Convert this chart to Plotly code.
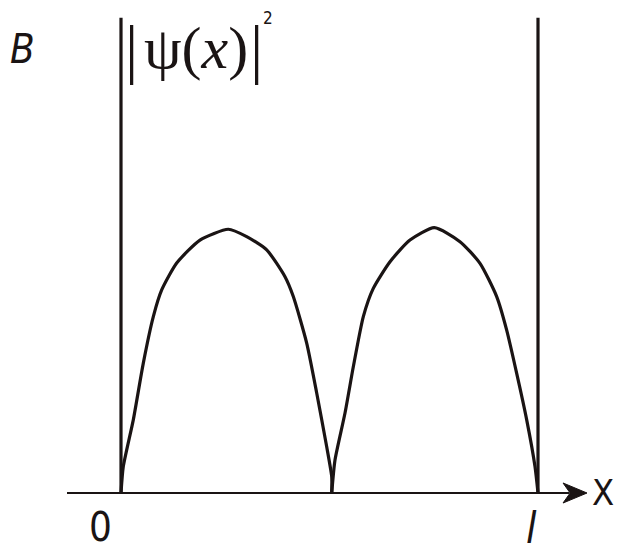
import plotly.graph_objects as go

# |psi(x)|^2 curve, x in units of l, y normalised to the peak height
x_hump1 = [0.0, 0.0055, 0.0295, 0.0535, 0.0775, 0.0976, 0.1336, 0.1894, 0.2573,
           0.3014, 0.3494, 0.3933, 0.4132, 0.4453, 0.4693, 0.4933, 0.5053, 0.5053]
y_hump1 = [0.0, 0.100, 0.277, 0.492, 0.668, 0.769, 0.871, 0.958, 0.999,
           0.971, 0.921, 0.819, 0.744, 0.568, 0.379, 0.175, 0.062, 0.0]
x_hump2 = [0.5053, 0.5132, 0.5372, 0.5571, 0.5811, 0.6050, 0.6451, 0.6930, 0.7513,
           0.8129, 0.8609, 0.9009, 0.9249, 0.9489, 0.9729, 0.9928, 1.0]
y_hump2 = [0.0, 0.125, 0.303, 0.478, 0.668, 0.775, 0.876, 0.958, 1.005,
           0.952, 0.870, 0.744, 0.617, 0.453, 0.277, 0.100, 0.0]

wall_x = [0.0, 1.0]          # infinite walls at x = 0 and x = l
wall_top = 1.80
axis_x = [-0.1295, 1.075]    # x axis line
arrow_x = [1.1175, 1.06, 1.077, 1.06, 1.1175]
arrow_y = [0.0, 0.038, 0.0, -0.038, 0.0]

# page body has an 8px margin; the figure is sized to fill the rest of the window
PAGE = 8
W, H = 628 - PAGE, 555 - PAGE
X0_PX, L_PX = 121, 417     # reference pixel of x=0, pixels per l
Y0_PX, P_PX = 493, 264     # reference pixel of y=0, pixels per unit height

def px2x(px):
    return (px - X0_PX) / L_PX

def py2y(py):
    return (Y0_PX - py) / P_PX

X_RANGE = [px2x(PAGE), px2x(628)]
Y_RANGE = [py2y(555), py2y(PAGE)]

ink = "#1a1414"
fig = go.Figure()
for wx in wall_x:
    fig.add_trace(go.Scatter(x=[wx, wx], y=[0, wall_top], mode="lines",
                             line=dict(color=ink, width=3.2), hoverinfo="skip"))
fig.add_trace(go.Scatter(x=axis_x, y=[0, 0], mode="lines",
                         line=dict(color=ink, width=2.2), hoverinfo="skip"))
fig.add_trace(go.Scatter(x=arrow_x, y=arrow_y, mode="lines", fill="toself",
                         fillcolor=ink, line=dict(color=ink, width=1),
                         hoverinfo="skip"))
for hx, hy in ((x_hump1, y_hump1), (x_hump2, y_hump2)):
    fig.add_trace(go.Scatter(x=hx, y=hy, mode="lines",
                             line=dict(color=ink, width=3.2, shape="spline", smoothing=0.6),
                             hoverinfo="skip"))

narrow = "Liberation Sans Narrow, DejaVu Sans Condensed, Arial Narrow, sans-serif"
serif = "Liberation Serif, Times New Roman, serif"
thin = "DejaVu Sans ExtraLight, Liberation Serif, serif"

anns = [
    dict(x=px2x(22), y=py2y(49), text="<i>B</i>", font=dict(family=narrow, size=40, color=ink)),
    dict(x=px2x(131), y=py2y(48), text="|", font=dict(family=thin, size=66, color=ink)),
    dict(x=px2x(196), y=py2y(48), text="ψ(<i>x</i>)", font=dict(family=serif, size=60, color=ink)),
    dict(x=px2x(256), y=py2y(48), text="|", font=dict(family=thin, size=66, color=ink)),
    dict(x=px2x(268), y=py2y(18), text="2", font=dict(family=narrow, size=17, color=ink)),
    dict(x=px2x(100), y=py2y(527), text="0", font=dict(family=narrow, size=40, color=ink)),
    dict(x=px2x(531), y=py2y(528), text="<i>l</i>", font=dict(family=narrow, size=42, color=ink)),
    dict(x=px2x(603), y=py2y(492), text="X", font=dict(family=narrow, size=36, color=ink)),
]
for a in anns:
    a.update(xref="x", yref="y", showarrow=False, xanchor="center", yanchor="middle")

fig.update_layout(
    width=W, height=H,
    margin=dict(l=0, r=0, t=0, b=0),
    paper_bgcolor="white", plot_bgcolor="white",
    showlegend=False,
    xaxis=dict(range=X_RANGE, visible=False, fixedrange=True),
    yaxis=dict(range=Y_RANGE, visible=False, fixedrange=True),
    annotations=anns,
)
fig.write_html("out.html")
